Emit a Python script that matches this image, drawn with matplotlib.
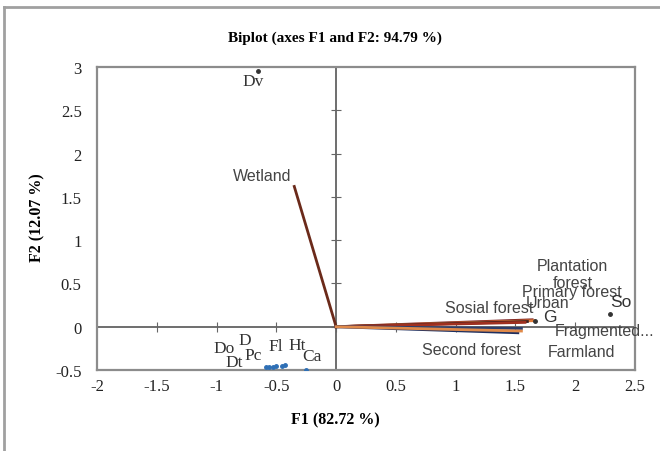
"""
Biplot of F1/F2 axes: land-cover variables as vectors, species as points.
"""

import matplotlib
matplotlib.use('Agg')
import matplotlib.pyplot as plt
from matplotlib.lines import Line2D

# variables (vectors)
var_names = ['Wetland', 'Plantation forest', 'Primary forest', 'Urban',
             'Sosial forest', 'Fragmented...', 'Second forest', 'Farmland']
var_f1 = [-0.35, 1.64, 1.66, 1.60, 1.58, 1.55, 1.52, 1.55]
var_f2 = [1.62, 0.08, 0.07, 0.06, 0.05, -0.02, -0.07, -0.05]
var_colors = ['#6b2a1a', '#7a1f1f', '#e07b39', '#3b1f1f',
              '#a0301f', '#2c3e6b', '#1f2f5f', '#e08a4a']

# observations (points)
obs_names = ['Dv', 'Do', 'Dt', 'D', 'Pc', 'Fl', 'Ht', 'Ca', 'G', 'So']
obs_f1 = [-0.65, -0.59, -0.56, -0.53, -0.50, -0.45, -0.43, -0.25, 1.66, 2.29]
obs_f2 = [2.95, -0.46, -0.46, -0.46, -0.45, -0.45, -0.44, -0.50, 0.07, 0.15]
obs_colors = ['#333333'] + ['#2e6fb5'] * 7 + ['#333333', '#333333']

x_ticks = [-2, -1.5, -1, -0.5, 0, 0.5, 1, 1.5, 2, 2.5]
y_ticks = [-0.5, 0, 0.5, 1, 1.5, 2, 2.5, 3]

# label offsets in points (dx, dy, ha) relative to the vector tip / point
var_offsets = {
    'Wetland': (-2, 8, 'right'),
    'Plantation forest': (29, 33, 'center'),
    'Primary forest': (-9, 21, 'left'),
    'Urban': (-1, 14, 'left'),
    'Sosial forest': (6, 11, 'right'),
    'Fragmented...': (24, -1.5, 'left'),
    'Second forest': (2, -12, 'right'),
    'Farmland': (19, -15, 'left'),
}
obs_offsets = {
    'Dv': (-4, -7), 'Do': (-30, 13), 'Dt': (-25, 3.5), 'D': (-20, 19),
    'Pc': (-17, 8), 'Fl': (-5, 14), 'Ht': (9, 14), 'Ca': (4, 10),
    'G': (11, 3), 'So': (8, 9),
}

fig = plt.figure(figsize=(6.6, 4.52), dpi=100)
ax = fig.add_axes([97 / 660, 1 - 371 / 452, 538 / 660, 303 / 452])

serif = ['Liberation Serif', 'DejaVu Serif']
sans = ['Liberation Sans', 'DejaVu Sans']

ax.set_xlim(-2, 2.5)
ax.set_ylim(-0.5, 3)
ax.set_xticks(x_ticks)
ax.set_yticks(y_ticks)
ax.set_xticklabels([f'{t:g}' for t in x_ticks])
ax.set_yticklabels([f'{t:g}' for t in y_ticks])
ax.tick_params(length=0, labelsize=12, labelcolor='#222222')
ax.tick_params(axis='x', pad=6)
ax.tick_params(axis='y', pad=11)
for lab in ax.get_xticklabels() + ax.get_yticklabels():
    lab.set_family(serif)
for sp in ax.spines.values():
    sp.set_color('#8c8c8c')
    sp.set_linewidth(1.6)

# zero axes with cross tick marks
ax.axhline(0, color='#555555', lw=1.2, zorder=1)
ax.axvline(0, color='#555555', lw=1.2, zorder=1)
ax.plot([t for t in x_ticks if t not in (-2, 2.5)],
        [0] * 8, ls='none', marker='|', ms=7, mew=0.8, color='#666666')
ax.plot([0] * 6, [t for t in y_ticks if t not in (-0.5, 3)],
        ls='none', marker='_', ms=7, mew=0.8, color='#666666')

for name, x, y, c in zip(var_names, var_f1, var_f2, var_colors):
    ax.plot([0, x], [0, y], color=c, lw=2.0, zorder=3)
    dx, dy, ha = var_offsets[name]
    if name == 'Plantation forest':
        name = 'Plantation\nforest'
    ax.annotate(name, (x, y), xytext=(dx, dy), textcoords='offset points',
                ha=ha, va='center', fontsize=11.5, color='#444444',
                family=sans, linespacing=1.2, zorder=4)

for name, x, y, c in zip(obs_names, obs_f1, obs_f2, obs_colors):
    ax.plot(x, y, 'o', ms=2.5, color=c, zorder=5)
    dx, dy = obs_offsets[name]
    ax.annotate(name, (x, y), xytext=(dx, dy), textcoords='offset points',
                ha='center', va='center', fontsize=12.5, color='#333333',
                family=serif if name not in ('G', 'So') else sans,
                zorder=6)

fig.text(335 / 660, 1 - 420 / 452, 'F1 (82.72 %)', ha='center', va='center',
         fontsize=11.5, fontweight='bold', family=serif)
fig.text(37 / 660, 1 - 218 / 452, 'F2 (12.07 %)', ha='center', va='center',
         rotation=90, fontsize=11.5, fontweight='bold', family=serif)
fig.text(335 / 660, 1 - 38 / 452, 'Biplot (axes F1 and F2: 94.79 %)',
         ha='center', va='center', fontsize=11, fontweight='bold',
         family=serif)

# outer chart border (left and top visible)
fig.add_artist(Line2D([4 / 660, 4 / 660], [0, 1 - 8 / 452],
                      transform=fig.transFigure, color='#a0a0a0', lw=2))
fig.add_artist(Line2D([4 / 660, 1], [1 - 8 / 452, 1 - 8 / 452],
                      transform=fig.transFigure, color='#a0a0a0', lw=2))

fig.savefig('out.png', dpi=100)
